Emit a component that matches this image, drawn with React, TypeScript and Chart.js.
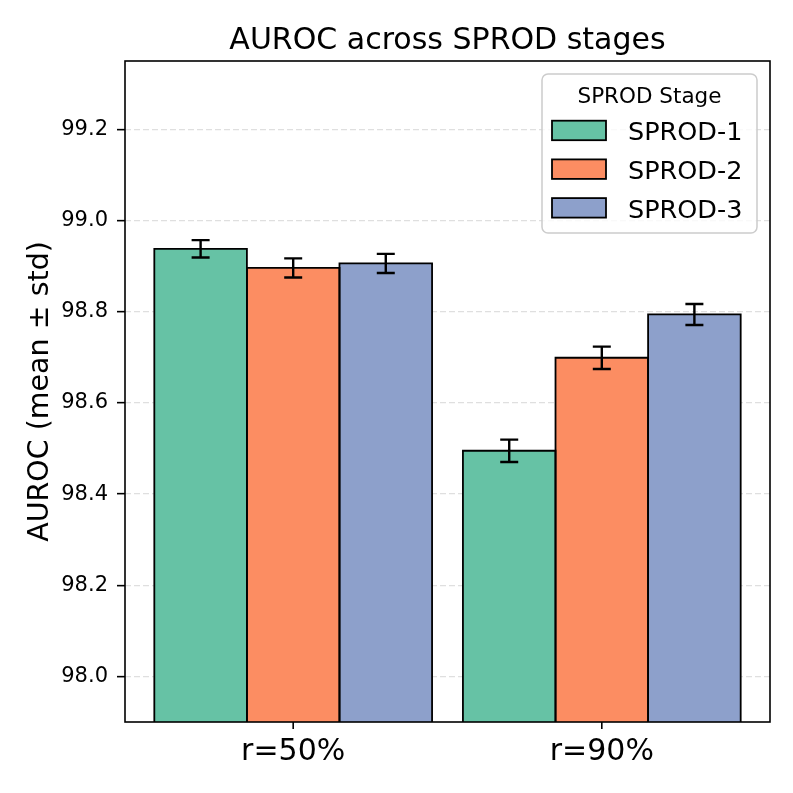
import React, { useEffect, useRef } from 'react';
import { Chart, registerables } from 'chart.js';

Chart.register(...registerables);

const categories = ['r=50%', 'r=90%'];
const stageLabels = ['SPROD-1', 'SPROD-2', 'SPROD-3'];
const sprod1Mean = [98.938, 98.495];
const sprod2Mean = [98.896, 98.699];
const sprod3Mean = [98.906, 98.794];
const sprod1Std = [0.019, 0.0245];
const sprod2Std = [0.021, 0.0245];
const sprod3Std = [0.021, 0.023];
const yTicks = [98.0, 98.2, 98.4, 98.6, 98.8, 99.0, 99.2];
const colors = ['#66c2a5', '#fc8d62', '#8da0cb'];
const titleText = 'AUROC across SPROD stages';
const yLabelText = 'AUROC (mean ± std)';
const legendTitle = 'SPROD Stage';

const FONT = "'DejaVu Sans', sans-serif";

const means = [sprod1Mean, sprod2Mean, sprod3Mean];
const stds = [sprod1Std, sprod2Std, sprod3Std];

function roundRect(ctx: CanvasRenderingContext2D, x: number, y: number, w: number, h: number, r: number) {
  ctx.beginPath();
  ctx.moveTo(x + r, y);
  ctx.lineTo(x + w - r, y);
  ctx.arcTo(x + w, y, x + w, y + r, r);
  ctx.lineTo(x + w, y + h - r);
  ctx.arcTo(x + w, y + h, x + w - r, y + h, r);
  ctx.lineTo(x + r, y + h);
  ctx.arcTo(x, y + h, x, y + h - r, r);
  ctx.lineTo(x, y + r);
  ctx.arcTo(x, y, x + r, y, r);
  ctx.closePath();
}

const decorPlugin = {
  id: 'decor',
  afterDatasetsDraw(chart: any) {
    const ctx = chart.ctx as CanvasRenderingContext2D;
    const yScale = chart.scales.y;
    const a = chart.chartArea;
    ctx.save();
    ctx.beginPath();
    ctx.rect(a.left, a.top, a.right - a.left, a.bottom - a.top);
    ctx.clip();
    // bar edges, centred on the bar boundaries
    ctx.strokeStyle = '#000';
    ctx.lineWidth = 1.8;
    chart.data.datasets.forEach((_ds: any, i: number) => {
      const meta = chart.getDatasetMeta(i);
      meta.data.forEach((el: any) => {
        const w = el.width;
        const left = el.x - w / 2;
        const top = el.y;
        const h = el.base - el.y;
        ctx.strokeRect(left, top, w, h);
      });
    });
    // error bars
    ctx.lineWidth = 2.4;
    chart.data.datasets.forEach((ds: any, i: number) => {
      const meta = chart.getDatasetMeta(i);
      meta.data.forEach((el: any, j: number) => {
        const v = ds.data[j].y;
        const e = ds.errors[j];
        const x = el.x;
        const yT = yScale.getPixelForValue(v + e);
        const yB = yScale.getPixelForValue(v - e);
        ctx.beginPath();
        ctx.moveTo(x, yT);
        ctx.lineTo(x, yB);
        ctx.moveTo(x - 9, yT);
        ctx.lineTo(x + 9, yT);
        ctx.moveTo(x - 9, yB);
        ctx.lineTo(x + 9, yB);
        ctx.stroke();
      });
    });
    ctx.restore();
  },
  afterDraw(chart: any) {
    const ctx = chart.ctx as CanvasRenderingContext2D;
    const a = chart.chartArea;
    const xScale = chart.scales.x;
    ctx.save();
    // frame
    ctx.strokeStyle = '#000';
    ctx.lineWidth = 1.6;
    ctx.strokeRect(a.left, a.top, a.right - a.left, a.bottom - a.top);
    // x tick marks
    ctx.lineWidth = 1.6;
    categories.forEach((_c, i) => {
      const x = xScale.getPixelForValue(i);
      ctx.beginPath();
      ctx.moveTo(x, a.bottom);
      ctx.lineTo(x, a.bottom + 7);
      ctx.stroke();
    });
    // title
    ctx.fillStyle = '#000';
    ctx.font = `30px ${FONT}`;
    ctx.textAlign = 'center';
    ctx.textBaseline = 'alphabetic';
    ctx.fillText(titleText, (a.left + a.right) / 2, a.top - 12);
    // y label
    ctx.save();
    ctx.translate(48, (a.top + a.bottom) / 2);
    ctx.rotate(-Math.PI / 2);
    ctx.font = `28.5px ${FONT}`;
    ctx.textAlign = 'center';
    ctx.textBaseline = 'alphabetic';
    ctx.fillText(yLabelText, 0, 0);
    ctx.restore();
    // legend
    const bw = 215;
    const bh = 159;
    const bx = a.right - 13 - bw;
    const by = a.top + 13;
    roundRect(ctx, bx, by, bw, bh, 6);
    ctx.fillStyle = 'rgba(255,255,255,0.8)';
    ctx.fill();
    ctx.strokeStyle = '#cccccc';
    ctx.lineWidth = 1.5;
    ctx.stroke();
    ctx.fillStyle = '#000';
    ctx.font = `21.5px ${FONT}`;
    ctx.textAlign = 'center';
    ctx.fillText(legendTitle, bx + bw / 2, by + 28.5);
    chart.data.datasets.forEach((ds: any, i: number) => {
      const py = by + 46.7 + i * 38.7;
      ctx.fillStyle = ds.backgroundColor;
      ctx.fillRect(bx + 10, py, 54, 19.5);
      ctx.strokeStyle = '#000';
      ctx.lineWidth = 1.8;
      ctx.strokeRect(bx + 10, py, 54, 19.5);
      ctx.fillStyle = '#000';
      ctx.font = `25.5px ${FONT}`;
      ctx.textAlign = 'left';
      ctx.fillText(ds.label, bx + 86, py + 19.5);
    });
    ctx.restore();
  },
};

export default function App() {
  const ref = useRef<HTMLCanvasElement | null>(null);
  useEffect(() => {
    if (!ref.current) return;
    const datasets = stageLabels.map((label, i) => ({
      label,
      data: means[i].map((v, j) => ({ x: j, y: v })),
      errors: stds[i],
      backgroundColor: colors[i],
      borderWidth: 0,
      inflateAmount: 0,
      categoryPercentage: 0.9,
      barPercentage: 1.0,
    }));
    const chart = new Chart(ref.current, {
      type: 'bar',
      data: { datasets } as any,
      plugins: [decorPlugin as any],
      options: {
        animation: false,
        responsive: false,
        devicePixelRatio: 1,
        layout: { padding: { top: 61, right: 23, bottom: 0, left: 0 } },
        plugins: {
          legend: { display: false },
          title: { display: false },
          tooltip: { enabled: false },
        },
        scales: {
          x: {
            type: 'linear',
            min: -0.545,
            max: 1.545,
            offset: false,
            afterBuildTicks: (scale: any) => {
              scale.ticks = categories.map((_, i) => ({ value: i }));
            },
            afterFit: (scale: any) => {
              scale.height = 71;
            },
            ticks: {
              callback: (v: any) => categories[Math.round(Number(v))] ?? '',
              font: { family: FONT, size: 30 },
              color: '#000',
              padding: 5,
              maxRotation: 0,
              autoSkip: false,
            },
            grid: {
              offset: false,
              drawOnChartArea: false,
              drawTicks: true,
              tickLength: 7,
              tickColor: 'rgba(0,0,0,0)',
              tickWidth: 1.6,
            },
            border: { display: false },
          },
          y: {
            min: 97.9,
            max: 99.35,
            afterBuildTicks: (scale: any) => {
              scale.ticks = yTicks.map((v) => ({ value: v }));
            },
            afterFit: (scale: any) => {
              scale.width = 125;
            },
            ticks: {
              callback: (v: any) => Number(v).toFixed(1),
              font: { family: FONT, size: 21 },
              color: '#000',
              padding: 9,
              autoSkip: false,
            },
            grid: {
              drawOnChartArea: true,
              color: 'rgba(176,176,176,0.4)',
              lineWidth: 1.3,
              drawTicks: true,
              tickLength: 8,
              tickColor: '#000',
              tickWidth: 1.6,
              tickBorderDash: [],
            },
            border: { display: false, dash: [6, 3] },
          },
        },
      } as any,
    });
    return () => chart.destroy();
  }, []);
  return (
    <div style={{ position: 'absolute', left: 0, top: 0, width: 793, height: 793, background: '#fff' }}>
      <canvas ref={ref} width={793} height={793} />
    </div>
  );
}
